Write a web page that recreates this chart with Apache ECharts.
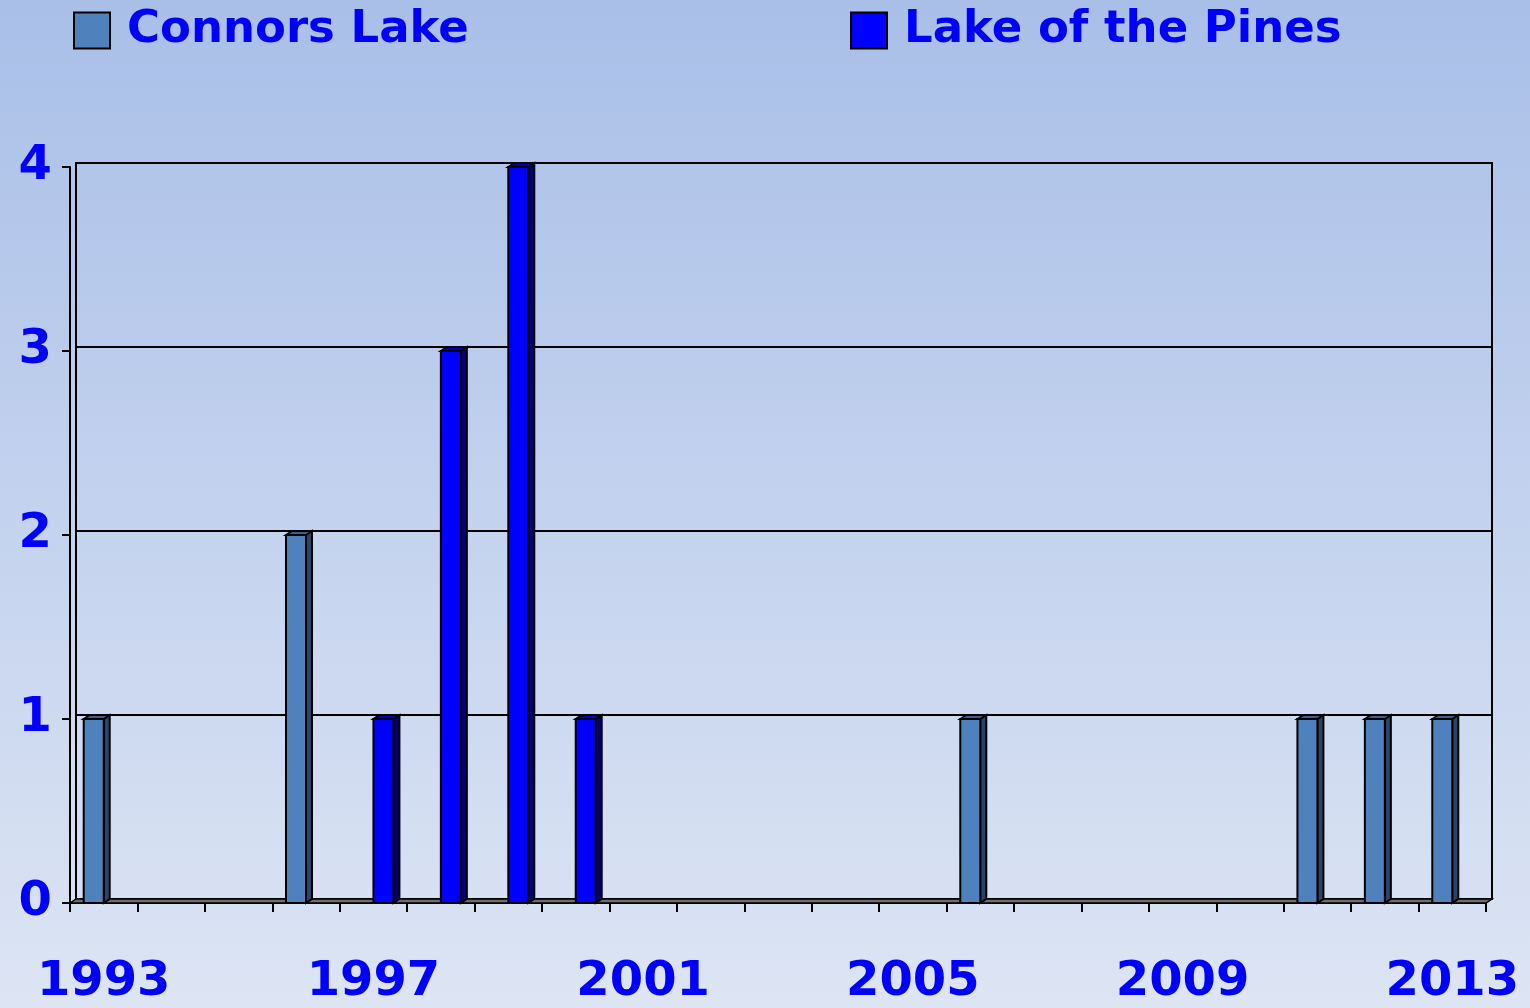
<!DOCTYPE html>
<html>
<head>
<meta charset="utf-8">
<script src="https://cdn.jsdelivr.net/npm/echarts@6/dist/echarts.min.js"></script>
<style>
html,body{margin:0;padding:0;}
#chart{width:1530px;height:1008px;}
</style>
</head>
<body>
<div id="chart"></div>
<script>
var years=['1993','1994','1995','1996','1997','1998','1999','2000','2001','2002','2003','2004','2005','2006','2007','2008','2009','2010','2011','2012','2013'];
var connors=[1,0,0,2,0,0,0,0,0,0,0,0,0,1,0,0,0,0,1,1,1];
var pines=[0,0,0,0,1,3,4,1,0,0,0,0,0,0,0,0,0,0,0,0,0];
var yTicks=[0,1,2,3,4];

var font="'Comic Sans MS', 'DejaVu Sans', sans-serif";
var blue='#0000ff';
var bw=20, dx=6, dy=4;

function pairs(arr){
    var out=[];
    for(var i=0;i<arr.length;i++){ out.push([i,arr[i]]); }
    return out;
}

function barRender(offset,face,side,top){
    return function(params,api){
        var v=api.value(1);
        if(!v) return;
        var base=api.coord([api.value(0),0]);
        var tip=api.coord([api.value(0),v]);
        var x=base[0]+offset-bw/2;
        var y0=base[1], y1=tip[1];
        var st={stroke:'#000',lineWidth:2};
        return {type:'group',children:[
            {type:'polygon',shape:{points:[[x+bw,y1],[x+bw+dx,y1-dy],[x+bw+dx,y0-dy],[x+bw,y0]]},style:Object.assign({fill:side},st)},
            {type:'polygon',shape:{points:[[x,y1],[x+dx,y1-dy],[x+bw+dx,y1-dy],[x+bw,y1]]},style:Object.assign({fill:top},st)},
            {type:'rect',shape:{x:x,y:y1,width:bw,height:y0-y1},style:Object.assign({fill:face},st)}
        ]};
    };
}

var chart=echarts.init(document.getElementById('chart'));
chart.setOption({
    backgroundColor:{type:'linear',x:0,y:0,x2:0,y2:1,colorStops:[{offset:0,color:'#a9bfe8'},{offset:1,color:'#dde5f4'}]},
    animation:false,
    legend:[
        {left:73,top:8,padding:0,data:['Connors Lake'],itemWidth:36,itemHeight:36,icon:'rect',
         textStyle:{color:blue,fontFamily:font,fontWeight:'bold',fontSize:45,padding:[0,0,0,12]}},
        {left:850,top:8,padding:0,data:['Lake of the Pines'],itemWidth:36,itemHeight:36,icon:'rect',
         textStyle:{color:blue,fontFamily:font,fontWeight:'bold',fontSize:45,padding:[0,0,0,12]}}
    ],
    grid:[
        {left:76,right:38,top:163,bottom:109,show:true,borderColor:'#000',borderWidth:2,backgroundColor:'transparent'},
        {left:70,right:44,top:167,bottom:105}
    ],
    xAxis:[
        {gridIndex:0,type:'category',data:years,show:false},
        {gridIndex:1,type:'category',data:years,boundaryGap:true,
         axisLine:{lineStyle:{color:'#000',width:2}},
         axisTick:{show:true,interval:0,length:9,lineStyle:{color:'#000',width:2}},
         axisLabel:{interval:3,color:blue,fontFamily:font,fontWeight:'bold',fontSize:48,margin:56}}
    ],
    yAxis:[
        {gridIndex:0,type:'value',min:0,max:4,interval:1,
         axisLine:{show:false},axisTick:{show:false},axisLabel:{show:false},
         splitLine:{show:true,lineStyle:{color:'#000',width:2}}},
        {gridIndex:1,type:'value',min:0,max:4,interval:1,
         axisLine:{show:true,lineStyle:{color:'#000',width:2}},
         axisTick:{show:true,length:8,lineStyle:{color:'#000',width:2}},
         splitLine:{show:false},
         axisLabel:{color:blue,fontFamily:font,fontWeight:'bold',fontSize:48,margin:18,
            formatter:function(v){ return yTicks.indexOf(v)>=0 ? String(v) : ''; }}}
    ],
    series:[
        {name:'floor',type:'custom',xAxisIndex:1,yAxisIndex:1,data:[[0,0]],silent:true,z:1,
         renderItem:function(params,api){
            if(params.dataIndex!==0) return;
            var cs=params.coordSys;
            var b=cs.y+cs.height;
            return {type:'polygon',shape:{points:[[cs.x,b],[cs.x+dx,b-dy],[cs.x+cs.width+dx,b-dy],[cs.x+cs.width,b]]},
                    style:{fill:'#6e6e6e',stroke:'#000',lineWidth:1.5}};
         }},
        {name:'Connors Lake',type:'custom',xAxisIndex:1,yAxisIndex:1,data:pairs(connors),z:3,
         encode:{x:0,y:1},itemStyle:{color:'#4f81bd',borderColor:'#000',borderWidth:2},
         renderItem:barRender(-10,'#4f81bd','#2c4466','#3a5f8c')},
        {name:'Lake of the Pines',type:'custom',xAxisIndex:1,yAxisIndex:1,data:pairs(pines),z:3,
         encode:{x:0,y:1},itemStyle:{color:'#0000ff',borderColor:'#000',borderWidth:2},
         renderItem:barRender(10,'#0000ff','#00007a','#0000b8')}
    ]
});
</script>
</body>
</html>
